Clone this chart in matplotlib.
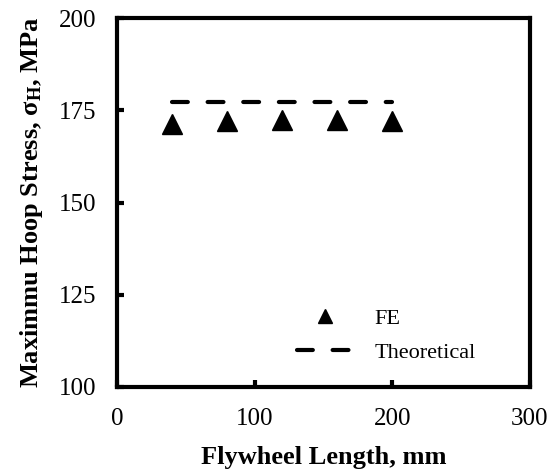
import matplotlib.pyplot as plt

plt.rcParams['font.family'] = ['Liberation Serif', 'DejaVu Serif']
plt.rcParams['mathtext.fontset'] = 'custom'
plt.rcParams['mathtext.rm'] = 'Liberation Serif'
plt.rcParams['mathtext.bf'] = 'Liberation Serif:bold'

length = [40, 80, 120, 160, 200]
fe_stress = [171.3, 172.0, 172.5, 172.3, 172.0]
theory_x = [40, 200]
theory_stress = [177.2, 177.2]

fig = plt.figure(figsize=(5.53, 4.70), dpi=100)
ax = fig.add_axes([0.2116, 0.1766, 0.7464, 0.785])

ax.plot(length, fe_stress, linestyle='none', marker='^', color='black',
        markersize=14, label='FE')
ax.plot(theory_x, theory_stress, linestyle=(0, (3.8, 4.75)), color='black',
        linewidth=3, dash_capstyle='round', label='Theoretical')

ax.set_xlim(0, 300)
ax.set_ylim(100, 200)
ax.set_xticks([0, 100, 200, 300])
ax.set_yticks([100, 125, 150, 175, 200])
ax.tick_params(direction='in', length=5, width=3, labelsize=18, pad=15)
for s in ax.spines.values():
    s.set_linewidth(3)

ax.set_xlabel('Flywheel Length, mm', fontsize=19, fontweight='bold', labelpad=12)
ax.set_ylabel(r'Maximmu Hoop Stress, $\mathbf{\sigma_H}$, MPa', fontsize=19,
              fontweight='bold', labelpad=10)

ax.legend(loc='center left', bbox_to_anchor=(0.436, 0.14), frameon=False,
          fontsize=16, handlelength=2.5, labelspacing=0.6, handletextpad=1.0,
          borderpad=0, borderaxespad=0, markerscale=0.75)

fig.savefig('out.png', dpi=100)
